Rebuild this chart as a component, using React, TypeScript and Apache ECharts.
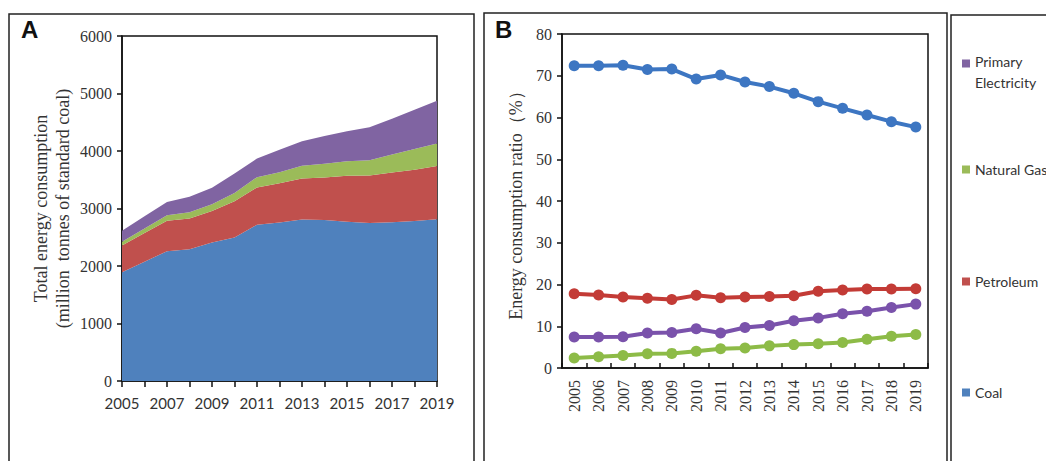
import React, { useEffect, useRef } from "react";
import * as echarts from "echarts";

const years = ["2005","2006","2007","2008","2009","2010","2011","2012","2013","2014","2015","2016","2017","2018","2019"];

// Panel A: total energy consumption by source (million tonnes of standard coal)
const coalTotal = [1892, 2074, 2258, 2292, 2407, 2496, 2717, 2755, 2810, 2802, 2770, 2746, 2762, 2784, 2813];
const petroleumTotal = [465, 501, 530, 535, 551, 628, 650, 684, 713, 737, 799, 826, 862, 892, 926];
const gasTotal = [63, 77, 93, 109, 118, 144, 178, 193, 221, 239, 252, 269, 315, 359, 390];
const electricityTotal = [193, 212, 234, 269, 286, 339, 325, 390, 425, 481, 521, 574, 620, 684, 746];

// Panel B: energy consumption ratio (%)
const coalRatio = [72.4, 72.4, 72.5, 71.5, 71.6, 69.2, 70.2, 68.5, 67.4, 65.8, 63.8, 62.2, 60.6, 59.0, 57.7];
const petroleumRatio = [17.8, 17.5, 17.0, 16.7, 16.4, 17.4, 16.8, 17.0, 17.1, 17.3, 18.4, 18.7, 18.9, 18.9, 19.0];
const gasRatio = [2.4, 2.7, 3.0, 3.4, 3.5, 4.0, 4.6, 4.8, 5.3, 5.6, 5.8, 6.1, 6.9, 7.6, 8.0];
const electricityRatio = [7.4, 7.4, 7.5, 8.4, 8.5, 9.4, 8.4, 9.7, 10.2, 11.3, 12.0, 13.0, 13.6, 14.5, 15.3];

const legendItems = ["Primary Electricity", "Natural Gas", "Petroleum", "Coal"];

const areaColors: Record<string, string> = {
  Coal: "#4F81BD",
  Petroleum: "#C0504D",
  "Natural Gas": "#9BBB59",
  "Primary Electricity": "#8064A2",
};
const lineColors: Record<string, string> = {
  Coal: "#3D76C2",
  Petroleum: "#C33B36",
  "Natural Gas": "#8DBB47",
  "Primary Electricity": "#7A52AB",
};

const serif = "'Liberation Serif', 'Times New Roman', serif";
const sans = "Lato, 'Liberation Sans', sans-serif";

export default function App() {
  const ref = useRef<HTMLDivElement>(null);
  useEffect(() => {
    if (!ref.current) return;
    const chart = echarts.init(ref.current, null, { renderer: "svg" });

    const areaSeries = [
      ["Coal", coalTotal],
      ["Petroleum", petroleumTotal],
      ["Natural Gas", gasTotal],
      ["Primary Electricity", electricityTotal],
    ].map(([name, data]: any) => ({
      name,
      type: "line",
      stack: "total",
      xAxisIndex: 0,
      yAxisIndex: 0,
      data,
      showSymbol: false,
      symbol: "none",
      lineStyle: { width: 0 },
      itemStyle: { color: areaColors[name] },
      areaStyle: { color: areaColors[name], opacity: 1 },
    }));

    const lineSeries = [
      ["Coal", coalRatio],
      ["Petroleum", petroleumRatio],
      ["Natural Gas", gasRatio],
      ["Primary Electricity", electricityRatio],
    ].map(([name, data]: any) => ({
      name,
      type: "line",
      xAxisIndex: 1,
      yAxisIndex: 1,
      data,
      symbol: "circle",
      symbolSize: 11,
      lineStyle: { width: 4, color: lineColors[name] },
      itemStyle: { color: lineColors[name] },
    }));

    const legendTops = [51, 159, 271, 382];
    const legends = legendItems.map((name, i) => ({
      data: [name],
      left: 962,
      top: legendTops[i],
      orient: "vertical",
      selectedMode: false,
      icon: name === "Primary Electricity" ? "path://M0,0H8V8H0Z M0,25H8V25.01H0Z" : "rect",
      itemWidth: 8,
      itemHeight: name === "Primary Electricity" ? 26 : 8,
      itemGap: 0,
      padding: 0,
      formatter: (n: string) => (n === "Primary Electricity" ? "Primary\nElectricity" : n),
      textStyle: { fontFamily: sans, fontSize: 14, color: "#333", lineHeight: 21 },
    }));

    chart.setOption({
      animation: false,
      backgroundColor: "#fff",
      legend: legends,
      grid: [
        { left: 122, top: 36, width: 315, height: 345, show: true, borderColor: "#111", borderWidth: 1.5, backgroundColor: "transparent" },
        { left: 562, top: 34, width: 366, height: 334, show: true, borderColor: "#111", borderWidth: 1.5, backgroundColor: "transparent" },
      ],
      xAxis: [
        {
          gridIndex: 0,
          type: "category",
          data: years,
          boundaryGap: false,
          axisLine: { lineStyle: { color: "#111", width: 1.5 } },
          axisTick: { show: true, interval: 0, length: 6, lineStyle: { color: "#111", width: 1.5 } },
          axisLabel: { interval: 1, fontFamily: sans, fontSize: 15, color: "#333", margin: 14 },
          splitLine: { show: false },
        },
        {
          gridIndex: 1,
          type: "category",
          data: years,
          boundaryGap: true,
          axisLine: { lineStyle: { color: "#111", width: 1.5 } },
          axisTick: { show: true, inside: true, length: 5, lineStyle: { color: "#111", width: 1.5 } },
          axisLabel: { interval: 0, rotate: 90, fontFamily: serif, fontSize: 16, color: "#333", margin: 12 },
          splitLine: { show: false },
        },
      ],
      yAxis: [
        {
          gridIndex: 0,
          type: "value",
          min: 0,
          max: 6000,
          interval: 1000,
          name: "Total energy consumption\n(million  tonnes of standard coal)",
          nameLocation: "middle",
          nameGap: 48,
          nameTextStyle: { fontFamily: serif, fontSize: 18, color: "#333", lineHeight: 22 },
          axisLine: { show: true, lineStyle: { color: "#111", width: 1.5 } },
          axisTick: { show: true, length: 5, lineStyle: { color: "#111", width: 1.5 } },
          axisLabel: { fontFamily: serif, fontSize: 16, color: "#333", margin: 10, formatter: (v: number) => String(v) },
          splitLine: { show: false },
        },
        {
          gridIndex: 1,
          type: "value",
          min: 0,
          max: 80,
          interval: 10,
          name: "Energy consumption ratio（%）",
          nameLocation: "middle",
          nameGap: 37,
          nameTextStyle: { fontFamily: serif, fontSize: 18, color: "#333" },
          axisLine: { show: true, lineStyle: { color: "#111", width: 1.5 } },
          axisTick: { show: true, length: 5, lineStyle: { color: "#111", width: 1.5 } },
          axisLabel: { fontFamily: serif, fontSize: 16, color: "#333", margin: 10 },
          splitLine: { show: false },
        },
      ],
      graphic: [
        { type: "rect", shape: { x: 9, y: 14, width: 465, height: 470 }, style: { fill: "none", stroke: "#222", lineWidth: 1.5 }, z: 10 },
        { type: "rect", shape: { x: 484, y: 13, width: 463, height: 470 }, style: { fill: "none", stroke: "#222", lineWidth: 1.5 }, z: 10 },
        { type: "rect", shape: { x: 951, y: 15, width: 120, height: 470 }, style: { fill: "none", stroke: "#222", lineWidth: 1.5 }, z: 10 },
        { type: "text", left: 21, top: 17, style: { text: "A", fontFamily: "'Liberation Sans', Arial, sans-serif", fontWeight: "bold", fontSize: 24, fill: "#111" }, z: 10 },
        { type: "text", left: 495, top: 17, style: { text: "B", fontFamily: "'Liberation Sans', Arial, sans-serif", fontWeight: "bold", fontSize: 24, fill: "#111" }, z: 10 },
      ],
      series: [...areaSeries, ...lineSeries],
    });
    return () => chart.dispose();
  }, []);
  return (
    <div
      ref={ref}
      style={{ position: "fixed", left: 0, top: 0, width: 1046, height: 461, background: "#fff" }}
    />
  );
}
